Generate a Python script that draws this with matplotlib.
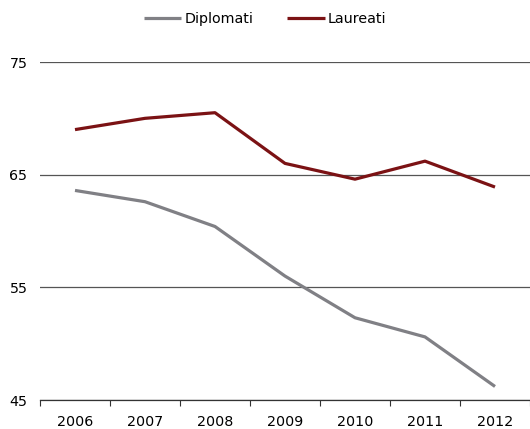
import matplotlib
matplotlib.use("Agg")
import matplotlib.pyplot as plt
import numpy as np
from matplotlib.ticker import FixedLocator

plt.rcParams.update({
    'font.family': 'DejaVu Sans',
    'font.size': 10.3,
})

# ── Data ────────────────────────────────────────────────────────────
years = ["2006", "2007", "2008", "2009", "2010", "2011", "2012"]
diplomati = [63.6, 62.6, 60.4, 56.0, 52.3, 50.6, 46.2]
laureati = [69.0, 70.0, 70.5, 66.0, 64.6, 66.2, 63.9]

COLOR_DIPL = '#808085'
COLOR_LAUR = '#7b1214'

fig = plt.figure(figsize=(5.3, 4.29), dpi=100)
ax = fig.add_axes([40 / 530, 29 / 429, 490 / 530, 338 / 429])

x = np.arange(len(years))
ax.plot(x, diplomati, color=COLOR_DIPL, linewidth=2.3, label="Diplomati",
        solid_capstyle='butt', zorder=3)
ax.plot(x, laureati, color=COLOR_LAUR, linewidth=2.3, label="Laureati",
        solid_capstyle='butt', zorder=3)

ax.set_xlim(-0.5, len(years) - 0.5)
ax.set_ylim(45, 75)
ax.set_yticks([45, 55, 65, 75])
ax.yaxis.grid(True, color='#555555', linewidth=0.9)
ax.set_axisbelow(True)

# category labels centred, tick marks between categories
ax.set_xticks(x)
ax.set_xticklabels(years)
ax.xaxis.set_minor_locator(FixedLocator(np.arange(-0.5, len(years), 1.0)))
ax.tick_params(axis='x', which='major', length=0, pad=10.5)
ax.tick_params(axis='x', which='minor', length=4.3, width=0.8, color='#333333')
ax.tick_params(axis='y', length=0, pad=9)

for side in ['top', 'right', 'left']:
    ax.spines[side].set_visible(False)
ax.spines['bottom'].set_color('#333333')
ax.spines['bottom'].set_linewidth(0.9)

fig.legend(loc='center', bbox_to_anchor=(0.5, 1 - 19 / 429), ncol=2,
           frameon=False, handlelength=2.6, handletextpad=0.2,
           columnspacing=2.4)

fig.savefig("out.png", dpi=100)
